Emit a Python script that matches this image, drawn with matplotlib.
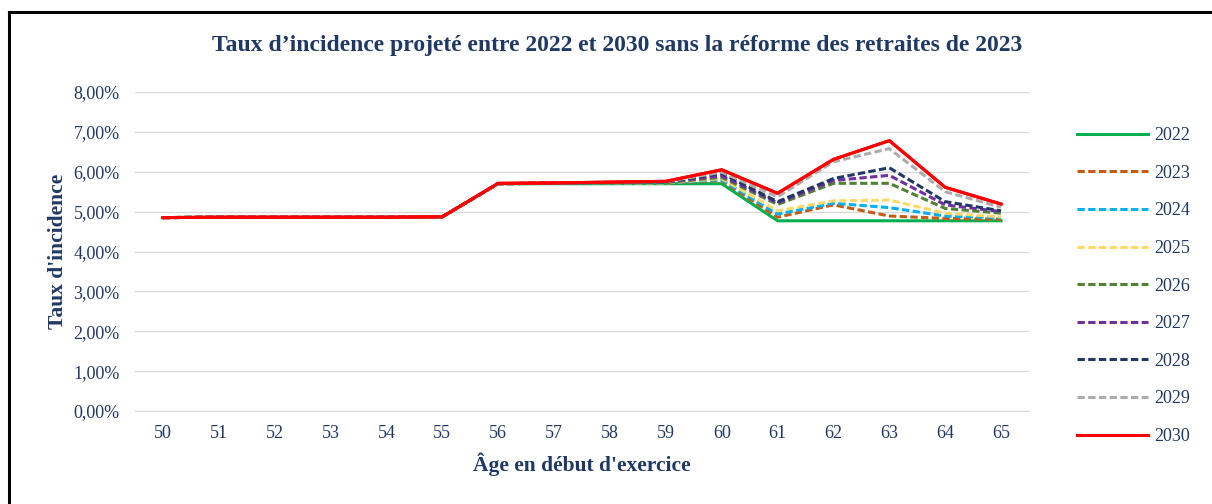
import matplotlib.pyplot as plt
from matplotlib.lines import Line2D
from matplotlib.ticker import FuncFormatter

ages = list(range(50, 66))
years = ['2022', '2023', '2024', '2025', '2026', '2027', '2028', '2029', '2030']

# taux en %
base = [4.85, 4.86, 4.86, 4.86, 4.86, 4.87]
t2022 = base + [5.70, 5.70, 5.70, 5.70, 5.70, 4.77, 4.77, 4.77, 4.77, 4.77]
t2023 = base + [5.70, 5.71, 5.71, 5.71, 5.78, 4.86, 5.17, 4.89, 4.83, 4.81]
t2024 = base + [5.70, 5.71, 5.71, 5.72, 5.80, 4.94, 5.21, 5.10, 4.89, 4.85]
t2025 = base + [5.70, 5.71, 5.72, 5.72, 5.83, 5.02, 5.27, 5.29, 4.96, 4.87]
t2026 = base + [5.70, 5.71, 5.72, 5.73, 5.86, 5.18, 5.71, 5.71, 5.08, 4.96]
t2027 = base + [5.70, 5.72, 5.73, 5.74, 5.90, 5.22, 5.78, 5.91, 5.17, 5.00]
t2028 = base + [5.70, 5.72, 5.73, 5.74, 5.96, 5.25, 5.83, 6.10, 5.25, 5.02]
t2029 = base + [5.70, 5.72, 5.74, 5.75, 5.99, 5.37, 6.25, 6.58, 5.50, 5.11]
t2030 = base + [5.71, 5.72, 5.74, 5.76, 6.05, 5.46, 6.31, 6.78, 5.61, 5.19]
series = [t2022, t2023, t2024, t2025, t2026, t2027, t2028, t2029, t2030]

colors = ['#00B050', '#C55A11', '#00B0F0', '#FFD966', '#548235',
          '#7030A0', '#203864', '#AFABAB', '#FF0000']
dashed = [False, True, True, True, True, True, True, True, False]

navy = '#1F3864'
plt.rcParams['font.family'] = ['Liberation Serif', 'DejaVu Serif']

fig = plt.figure(figsize=(12.12, 5.04), dpi=100)
ax = fig.add_axes([135 / 1212, 1 - 411 / 504, (1029 - 135) / 1212, (411 - 92) / 504])

handles = []
for vals, c, d, lab in zip(series, colors, dashed, years):
    ls = (0, (2.4, 1.1)) if d else '-'
    ax.plot(ages, [v / 100 for v in vals], color=c, lw=2.2, linestyle=ls)
    handles.append(Line2D([], [], color=c, lw=2.2, linestyle=ls, label=lab))

# on redessine 2030 au-dessus
ax.plot(ages, [v / 100 for v in t2030], color='#FF0000', lw=2.2)

ax.set_xlim(49.5, 65.5)
ax.set_ylim(0, 0.08)
ax.set_xticks(ages)
ax.set_yticks([i / 100 for i in range(9)])
ax.yaxis.set_major_formatter(FuncFormatter(lambda v, p: ('%.2f%%' % (v * 100)).replace('.', ',')))
ax.tick_params(length=0, labelsize=13, labelcolor=navy)
ax.tick_params(axis='y', pad=11)
ax.tick_params(axis='x', pad=10)
ax.grid(axis='y', color='#D9D9D9', lw=1)
ax.set_axisbelow(True)
for s in ['top', 'right', 'left']:
    ax.spines[s].set_visible(False)
ax.spines['bottom'].set_color('#D9D9D9')

ax.set_ylabel("Taux d'incidence", fontsize=15.5, fontweight='bold', color=navy, labelpad=4)
ax.set_xlabel("Âge en début d'exercice", fontsize=15.5, fontweight='bold', color=navy, labelpad=8)
fig.text(617 / 1212, 1 - 45 / 504,
         'Taux d’incidence projeté entre 2022 et 2030 sans la réforme des retraites de 2023',
         ha='center', va='center', fontsize=17, fontweight='bold', color=navy)

leg = fig.legend(handles=handles, loc='center left', bbox_to_anchor=(1061 / 1212, 1 - 286 / 504),
                 frameon=False, fontsize=13, handlelength=3.9, labelspacing=1.14, handletextpad=0.35)
for t in leg.get_texts():
    t.set_color(navy)

# cadre (bords gauche et haut)
fig.add_artist(Line2D([9 / 1212, 9 / 1212], [0, 1 - 12 / 504], color='black', lw=2.2,
                      transform=fig.transFigure))
fig.add_artist(Line2D([9 / 1212, 1], [1 - 12 / 504, 1 - 12 / 504], color='black', lw=2.2,
                      transform=fig.transFigure))

fig.savefig('out.png', dpi=100)
